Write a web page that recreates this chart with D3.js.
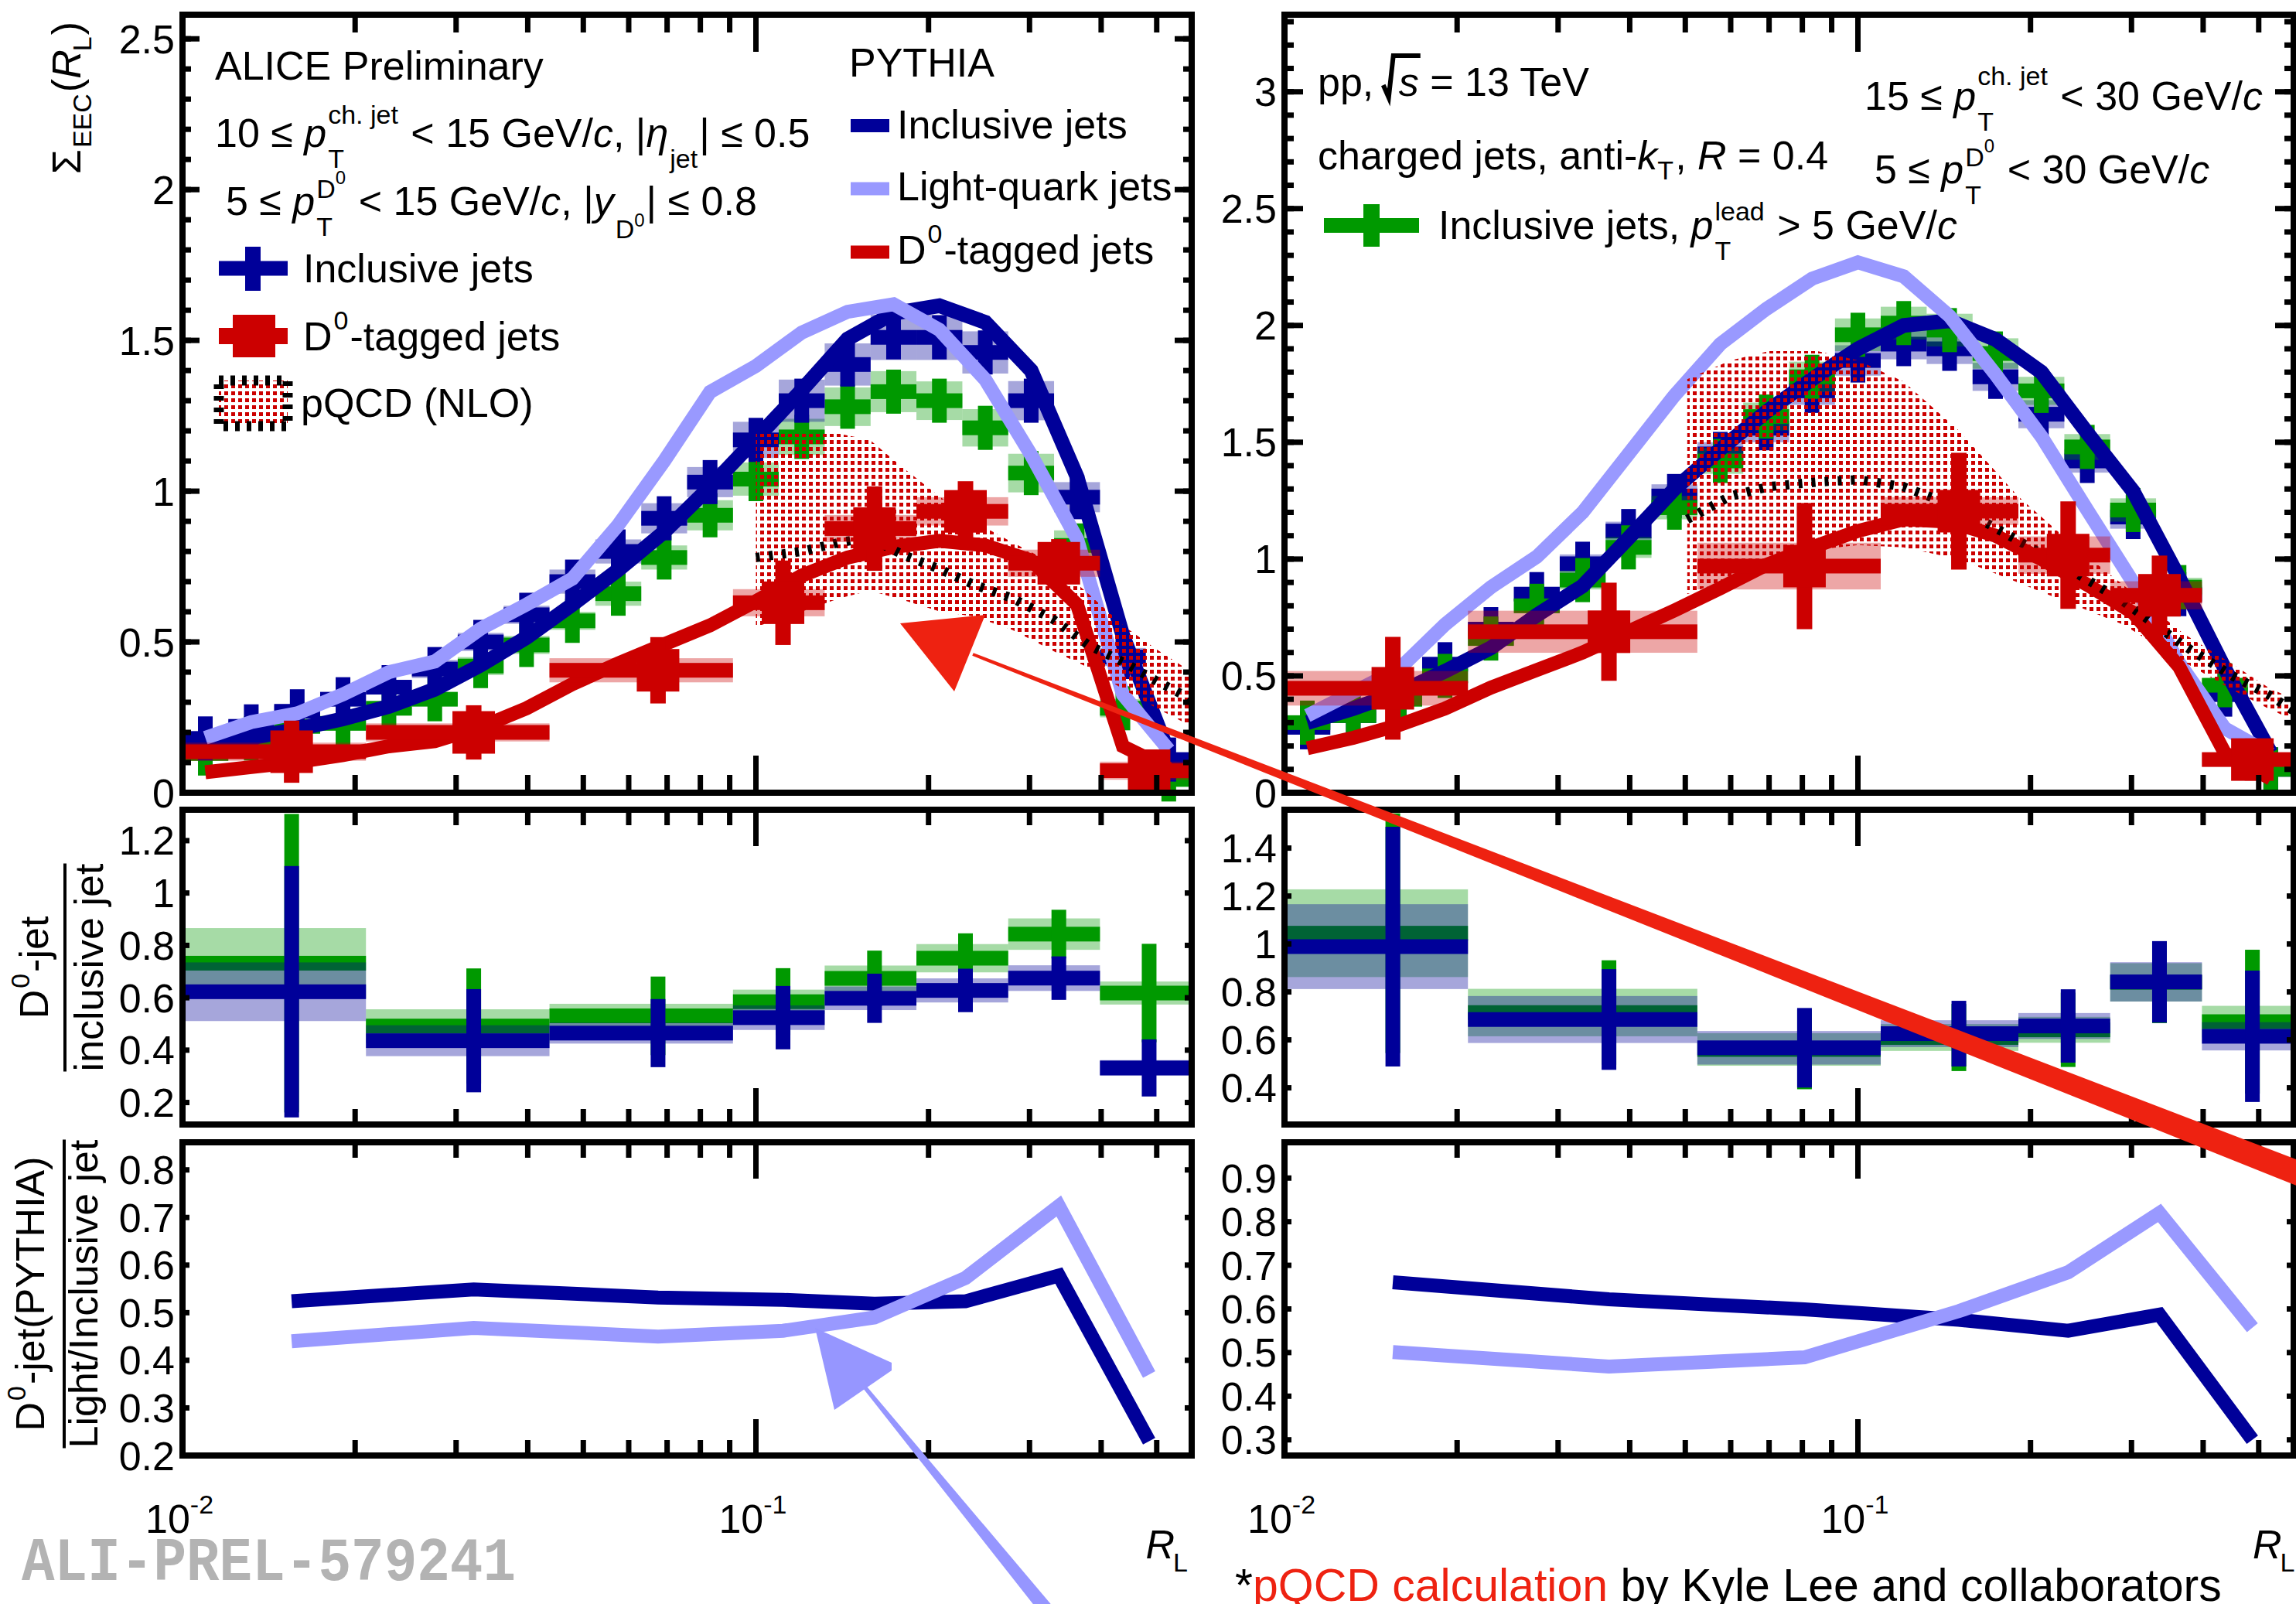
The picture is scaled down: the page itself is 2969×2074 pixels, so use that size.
<!DOCTYPE html>
<html>
<head>
<meta charset="utf-8">
<script src="https://cdn.jsdelivr.net/npm/d3@7"></script>
<style>
  html, body { margin: 0; padding: 0; background: #fff; }
  svg { display: block; }
</style>
</head>
<body>
<svg id="chart" width="2969" height="2074" xmlns="http://www.w3.org/2000/svg"></svg>
<script>
// ---------------- binning in R_L ----------------
const fineEdges = [0.01, 0.01202, 0.01445, 0.01738, 0.02089, 0.02512, 0.0302, 0.03631, 0.04365, 0.05248, 0.0631, 0.07586,
  0.0912, 0.1096, 0.1318, 0.1585, 0.1905, 0.2291, 0.2754, 0.3311, 0.3981, 0.4786, 0.5754];
const fineCenters = [0.01096, 0.01318, 0.01585, 0.01905, 0.02291, 0.02754, 0.03311, 0.03981, 0.04786, 0.05754, 0.06918,
  0.08318, 0.1, 0.1202, 0.1445, 0.1738, 0.2089, 0.2512, 0.302, 0.3631, 0.4365, 0.5248];
const d0EdgesL = [0.01, 0.02089, 0.04365, 0.0912, 0.1318, 0.1905, 0.2754, 0.3981, 0.5754];
const d0CentersL = [0.0155, 0.0322, 0.0675, 0.1115, 0.161, 0.232, 0.3375, 0.485];
const d0EdgesR = [0.01, 0.02089, 0.05248, 0.1096, 0.1905, 0.2754, 0.3981, 0.5754];
const d0CentersR = [0.01545, 0.0368, 0.0807, 0.150, 0.2326, 0.3357, 0.4875];

// ---------------- 10 < pT < 15 GeV/c ----------------
const incL = [0.18, 0.22, 0.27, 0.31, 0.35, 0.41, 0.50, 0.59, 0.70, 0.80, 0.91, 1.03, 1.17, 1.30, 1.42, 1.51, 1.51, 1.46, 1.30, 0.98, 0.45, 0.11];
const incLStat = [0.01, 0.01, 0.01, 0.01, 0.01, 0.01, 0.01, 0.01, 0.01, 0.01, 0.01, 0.01, 0.01, 0.01, 0.01, 0.01, 0.01, 0.01, 0.02, 0.02, 0.02, 0.02];
const incLSys = [0.02, 0.02, 0.02, 0.02, 0.02, 0.03, 0.03, 0.03, 0.04, 0.04, 0.05, 0.05, 0.06, 0.07, 0.07, 0.075, 0.075, 0.07, 0.065, 0.05, 0.03, 0.02];
const leadL = [0.13, 0.18, 0.22, 0.23, 0.28, 0.31, 0.42, 0.49, 0.57, 0.66, 0.78, 0.92, 1.04, 1.18, 1.28, 1.33, 1.30, 1.21, 1.06, 0.82, 0.28, 0.044];
const leadLStat = [0.01, 0.01, 0.01, 0.01, 0.01, 0.01, 0.01, 0.01, 0.01, 0.01, 0.01, 0.01, 0.01, 0.01, 0.01, 0.01, 0.01, 0.01, 0.02, 0.02, 0.02, 0.02];
const leadLSys = [0.02, 0.02, 0.02, 0.02, 0.02, 0.02, 0.03, 0.03, 0.03, 0.04, 0.04, 0.05, 0.055, 0.06, 0.064, 0.068, 0.064, 0.062, 0.064, 0.05, 0.03, 0.02];
const pyIncL = [0.154, 0.182, 0.211, 0.245, 0.286, 0.343, 0.423, 0.515, 0.624, 0.739, 0.865, 1.014, 1.174, 1.335, 1.505, 1.59, 1.615, 1.56, 1.40, 1.048, 0.521, 0.131];
const pyLightL = [0.182, 0.234, 0.263, 0.326, 0.400, 0.435, 0.544, 0.624, 0.710, 0.888, 1.100, 1.329, 1.415, 1.526, 1.595, 1.62, 1.535, 1.37, 1.12, 0.842, 0.326, 0.142];
const pyD0L = [0.068, 0.085, 0.102, 0.125, 0.154, 0.171, 0.217, 0.280, 0.360, 0.429, 0.492, 0.555, 0.635, 0.72, 0.78, 0.815, 0.835, 0.82, 0.77, 0.624, 0.154, 0.079];
const d0L = [0.136, 0.20, 0.406, 0.63, 0.876, 0.933, 0.761, 0.073];
const d0LStat = [0.103, 0.09, 0.11, 0.14, 0.14, 0.10, 0.08, 0.07];
const d0LSys = [0.03, 0.03, 0.04, 0.045, 0.045, 0.047, 0.045, 0.03];
const nloXL = [0.1, 0.12, 0.14, 0.158, 0.18, 0.21, 0.24, 0.28, 0.33, 0.38, 0.44, 0.5, 0.5754];
const nloHiL = [1.19, 1.19, 1.19, 1.17, 1.08, 0.98, 0.90, 0.83, 0.76, 0.66, 0.55, 0.475, 0.40];
const nloMidL = [0.78, 0.80, 0.83, 0.846, 0.79, 0.74, 0.69, 0.645, 0.575, 0.49, 0.43, 0.37, 0.31];
const nloLoL = [0.55, 0.60, 0.645, 0.67, 0.64, 0.60, 0.585, 0.54, 0.47, 0.415, 0.34, 0.28, 0.22];

// ---------------- 15 < pT < 30 GeV/c ----------------
const incR = [0.28, 0.33, 0.42, 0.55, 0.70, 0.85, 0.98, 1.12, 1.27, 1.45, 1.56, 1.72, 1.85, 1.92, 1.90, 1.78, 1.62, 1.42, 1.18, 0.85, 0.42, 0.10];
const incRStat = [0.03, 0.03, 0.03, 0.03, 0.03, 0.03, 0.03, 0.04, 0.03, 0.03, 0.03, 0.03, 0.03, 0.03, 0.03, 0.03, 0.03, 0.03, 0.03, 0.03, 0.03, 0.03];
const incRSys = [0.02, 0.02, 0.02, 0.03, 0.03, 0.03, 0.04, 0.04, 0.05, 0.05, 0.06, 0.06, 0.065, 0.065, 0.065, 0.06, 0.06, 0.05, 0.05, 0.04, 0.03, 0.02];
const leadR = [0.30, 0.33, 0.40, 0.50, 0.66, 0.80, 0.91, 1.05, 1.22, 1.42, 1.61, 1.78, 1.96, 2.01, 1.98, 1.88, 1.72, 1.48, 1.21, 0.88, 0.46, 0.10];
const leadRStat = [0.03, 0.03, 0.03, 0.03, 0.03, 0.03, 0.03, 0.03, 0.03, 0.03, 0.03, 0.03, 0.03, 0.03, 0.03, 0.03, 0.03, 0.03, 0.03, 0.03, 0.03, 0.03];
const leadRSys = [0.02, 0.02, 0.02, 0.03, 0.03, 0.03, 0.04, 0.045, 0.05, 0.055, 0.06, 0.065, 0.07, 0.07, 0.07, 0.065, 0.06, 0.055, 0.05, 0.04, 0.03, 0.02];
const pyIncR = [0.30, 0.36, 0.43, 0.52, 0.62, 0.76, 0.885, 1.09, 1.30, 1.47, 1.63, 1.77, 1.90, 2.00, 2.02, 1.94, 1.80, 1.54, 1.29, 0.92, 0.53, 0.17];
const pyLightR = [0.33, 0.43, 0.53, 0.72, 0.88, 1.01, 1.20, 1.45, 1.70, 1.92, 2.07, 2.20, 2.27, 2.21, 2.04, 1.79, 1.525, 1.21, 0.90, 0.556, 0.275, 0.165];
const pyD0R = [0.19, 0.235, 0.29, 0.36, 0.45, 0.525, 0.60, 0.69, 0.78, 0.875, 0.975, 1.05, 1.12, 1.17, 1.16, 1.10, 1.00, 0.89, 0.77, 0.54, 0.17, 0.06];
const d0R = [0.447, 0.689, 0.970, 1.205, 1.017, 0.845, 0.142];
const d0RStat = [0.22, 0.21, 0.27, 0.25, 0.23, 0.17, 0.09];
const d0RSys = [0.074, 0.09, 0.10, 0.06, 0.08, 0.06, 0.03];
const nloXR = [0.0504, 0.06, 0.07, 0.085, 0.1, 0.12, 0.15, 0.19, 0.24, 0.29, 0.37, 0.45, 0.52, 0.5754];
const nloHiR = [1.77, 1.85, 1.89, 1.89, 1.85, 1.76, 1.55, 1.27, 1.05, 0.89, 0.68, 0.55, 0.45, 0.40];
const nloMidR = [1.17, 1.27, 1.31, 1.33, 1.34, 1.31, 1.22, 1.08, 0.94, 0.82, 0.63, 0.50, 0.42, 0.35];
const nloLoR = [0.85, 0.92, 0.98, 1.04, 1.06, 1.05, 1.00, 0.90, 0.80, 0.72, 0.56, 0.44, 0.36, 0.31];

// ---------------- D0-jet / inclusive-jet ratios ----------------
const ratIncL = [0.623, 0.436, 0.465, 0.524, 0.598, 0.628, 0.675, 0.332];
const ratIncLStat = [0.48, 0.197, 0.13, 0.121, 0.094, 0.083, 0.083, 0.109];
const ratIncLSys = [0.112, 0.059, 0.04, 0.047, 0.045, 0.046, 0.049, 0.03];
const ratLeadL = [0.732, 0.492, 0.531, 0.585, 0.674, 0.751, 0.843, 0.618];
const ratLeadLStat = [0.57, 0.22, 0.15, 0.128, 0.106, 0.095, 0.093, 0.188];
const ratLeadLSys = [0.134, 0.064, 0.046, 0.046, 0.049, 0.054, 0.06, 0.044];
const ratIncR = [0.989, 0.685, 0.567, 0.626, 0.658, 0.842, 0.615];
const ratIncRStat = [0.50, 0.21, 0.166, 0.137, 0.153, 0.17, 0.274];
const ratIncRSys = [0.177, 0.098, 0.07, 0.056, 0.054, 0.082, 0.059];
const ratLeadR = [1.045, 0.714, 0.56, 0.61, 0.642, 0.84, 0.676];
const ratLeadRStat = [0.50, 0.218, 0.166, 0.14, 0.155, 0.17, 0.30];
const ratLeadRSys = [0.183, 0.099, 0.068, 0.056, 0.054, 0.08, 0.066];

// ---------------- PYTHIA ratios ----------------
const pyRatIncL = [0.524, 0.549, 0.532, 0.527, 0.519, 0.524, 0.578, 0.23];
const pyRatLightL = [0.44, 0.468, 0.45, 0.462, 0.49, 0.573, 0.724, 0.37];
const pyRatIncR = [0.661, 0.622, 0.599, 0.575, 0.55, 0.587, 0.30];
const pyRatLightR = [0.501, 0.468, 0.489, 0.595, 0.684, 0.82, 0.557];

// ---------------- tick labels ----------------
const yTicksTL = [0, 0.5, 1, 1.5, 2, 2.5];
const yTicksTR = [0, 0.5, 1, 1.5, 2, 2.5, 3];
const yTicksML = [0.2, 0.4, 0.6, 0.8, 1, 1.2];
const yTicksMR = [0.4, 0.6, 0.8, 1, 1.2, 1.4];
const yTicksBL = [0.2, 0.3, 0.4, 0.5, 0.6, 0.7, 0.8];
const yTicksBR = [0.3, 0.4, 0.5, 0.6, 0.7, 0.8, 0.9];
const xMajor = [0.01, 0.1];
const xMinor = [0.02, 0.03, 0.04, 0.05, 0.06, 0.07, 0.08, 0.09, 0.2, 0.3, 0.4, 0.5];

// =====================================================================
const W = 2969, H = 2074;
const FONT = "'Liberation Sans', Arial, Helvetica, sans-serif";
const COL = { inc: '#000099', light: '#9999ff', d0: '#cc0000', lead: '#009900', note: '#ee2211' };
const SYS_ALPHA = 0.35;

const svg = d3.select('#chart').attr('font-family', FONT);
svg.append('rect').attr('width', W).attr('height', H).attr('fill', '#fff');
const defs = svg.append('defs');
const pat = defs.append('pattern').attr('id', 'nloFill').attr('patternUnits', 'userSpaceOnUse')
  .attr('width', 9).attr('height', 9);
pat.append('rect').attr('x', 2).attr('y', 2).attr('width', 5).attr('height', 5).attr('fill', COL.d0);

const LX = [236, 1541], RX = [1661, 2966];
const TOPY = [1025, 19], MIDY = [1454, 1047], BOTY = [1882, 1477];
const xDomain = [0.01, 0.5754];
const xL = d3.scaleLog().domain(xDomain).range(LX);
const xR = d3.scaleLog().domain(xDomain).range(RX);
const yTL = d3.scaleLinear().domain([0, 2.58]).range(TOPY);
const yTR = d3.scaleLinear().domain([0, 3.33]).range(TOPY);
const yML = d3.scaleLinear().domain([0.116, 1.318]).range(MIDY);
const yMR = d3.scaleLinear().domain([0.247, 1.56]).range(MIDY);
const yBL = d3.scaleLinear().domain([0.2, 0.858]).range(BOTY);
const yBR = d3.scaleLinear().domain([0.264, 0.982]).range(BOTY);

let clipCount = 0;
function makePanel(x, y) {
  const id = 'pclip' + (clipCount++);
  const [x0, x1] = x.range(), [yb, yt] = y.range();
  defs.append('clipPath').attr('id', id).append('rect')
    .attr('x', x0).attr('y', yt).attr('width', x1 - x0).attr('height', yb - yt);
  const g = svg.append('g');
  return {
    x, y,
    layer(clipped) { const l = g.append('g'); if (clipped) l.attr('clip-path', `url(#${id})`); return l; }
  };
}

// inclusive-jet style points: systematic boxes, stat bars, cross markers
function drawCrosses(g, x, y, vals, stat, sys, color) {
  const idx = d3.range(vals.length);
  g.append('g').selectAll('rect').data(idx).join('rect')
    .attr('x', i => x(fineEdges[i])).attr('width', i => x(fineEdges[i + 1]) - x(fineEdges[i]))
    .attr('y', i => y(vals[i] + sys[i])).attr('height', i => y(vals[i] - sys[i]) - y(vals[i] + sys[i]))
    .attr('fill', color).attr('fill-opacity', SYS_ALPHA);
  const m = g.append('g').attr('fill', color);
  idx.forEach(i => {
    const cx = x(fineCenters[i]), cy = y(vals[i]);
    m.append('rect').attr('x', cx - 9.5).attr('width', 19)
      .attr('y', y(vals[i] + stat[i])).attr('height', y(vals[i] - stat[i]) - y(vals[i] + stat[i]));
    m.append('rect').attr('x', x(fineEdges[i])).attr('width', x(fineEdges[i + 1]) - x(fineEdges[i]))
      .attr('y', cy - 9.5).attr('height', 19);
    m.append('rect').attr('x', cx - 9.5).attr('width', 19).attr('y', cy - 28.5).attr('height', 57);
  });
}

// D0-tagged points: wide bins, big square markers
function drawD0(g, x, y, centers, edges, vals, stat, sys) {
  const idx = d3.range(vals.length);
  g.append('g').selectAll('rect').data(idx).join('rect')
    .attr('x', i => x(edges[i])).attr('width', i => x(edges[i + 1]) - x(edges[i]))
    .attr('y', i => y(vals[i] + sys[i])).attr('height', i => y(vals[i] - sys[i]) - y(vals[i] + sys[i]))
    .attr('fill', COL.d0).attr('fill-opacity', SYS_ALPHA);
  const m = g.append('g').attr('fill', COL.d0);
  idx.forEach(i => {
    const cx = x(centers[i]), cy = y(vals[i]);
    m.append('rect').attr('x', x(edges[i])).attr('width', x(edges[i + 1]) - x(edges[i]))
      .attr('y', cy - 9.5).attr('height', 19);
    m.append('rect').attr('x', cx - 10).attr('width', 20)
      .attr('y', y(vals[i] + stat[i])).attr('height', y(vals[i] - stat[i]) - y(vals[i] + stat[i]));
    m.append('rect').attr('x', cx - 27.5).attr('width', 55).attr('y', cy - 27.5).attr('height', 55);
  });
}

// ratio points: boxes, bin-wide bars and stat bars
function drawRatio(g, x, y, centers, edges, vals, stat, sys, color) {
  const idx = d3.range(vals.length);
  g.append('g').selectAll('rect').data(idx).join('rect')
    .attr('x', i => x(edges[i])).attr('width', i => x(edges[i + 1]) - x(edges[i]))
    .attr('y', i => y(vals[i] + sys[i])).attr('height', i => y(vals[i] - sys[i]) - y(vals[i] + sys[i]))
    .attr('fill', color).attr('fill-opacity', SYS_ALPHA);
  const m = g.append('g').attr('fill', color);
  idx.forEach(i => {
    const cx = x(centers[i]), cy = y(vals[i]);
    m.append('rect').attr('x', x(edges[i])).attr('width', x(edges[i + 1]) - x(edges[i]))
      .attr('y', cy - 9.5).attr('height', 19);
    m.append('rect').attr('x', cx - 9.5).attr('width', 19)
      .attr('y', y(vals[i] + stat[i])).attr('height', y(vals[i] - stat[i]) - y(vals[i] + stat[i]));
  });
}

function drawLine(g, x, y, xs, ys, color, width) {
  g.append('path').datum(xs.map((v, i) => [v, ys[i]]))
    .attr('d', d3.line().x(d => x(d[0])).y(d => y(d[1])))
    .attr('fill', 'none').attr('stroke', color).attr('stroke-width', width)
    .attr('stroke-linejoin', 'miter').attr('stroke-miterlimit', 3);
}

function drawNLO(g, x, y, xs, lo, mid, hi) {
  g.append('path').datum(xs.map((v, i) => [v, lo[i], hi[i]]))
    .attr('d', d3.area().x(d => x(d[0])).y0(d => y(d[1])).y1(d => y(d[2])))
    .attr('fill', 'url(#nloFill)');
  g.append('path').datum(xs.map((v, i) => [v, mid[i]]))
    .attr('d', d3.line().x(d => x(d[0])).y(d => y(d[1])))
    .attr('fill', 'none').attr('stroke', '#000').attr('stroke-width', 12).attr('stroke-dasharray', '5 12');
}

function fmt(v) { return String(Math.round(v * 10) / 10); }

function drawAxes(x, y, o) {
  const g = svg.append('g').attr('stroke', '#000').attr('stroke-width', 7);
  const [x0, x1] = x.range(), [yb, yt] = y.range();
  const tick = (a, b, c, d) => g.append('line').attr('x1', a).attr('y1', b).attr('x2', c).attr('y2', d);
  xMajor.concat(xMinor).forEach(v => {
    const len = xMajor.includes(v) ? o.xMaj : o.xMin;
    const px = x(v);
    tick(px, yb, px, yb - len);
    tick(px, yt, px, yt + len);
  });
  (o.yMinor || []).forEach(v => {
    const py = y(v);
    tick(x0, py, x0 + o.yMin, py);
    tick(x1, py, x1 - o.yMin, py);
  });
  o.yTicks.forEach(v => {
    const py = y(v);
    tick(x0, py, x0 + o.yMaj, py);
    tick(x1, py, x1 - o.yMaj, py);
  });
  g.append('rect').attr('x', x0).attr('y', yt).attr('width', x1 - x0).attr('height', yb - yt)
    .attr('fill', 'none').attr('stroke-width', 8);
  const lab = svg.append('g').attr('font-size', 52).attr('text-anchor', 'end');
  o.yTicks.forEach(v => {
    lab.append('text').attr('x', x0 - 10).attr('y', y(v) + 18.5).text(fmt(v));
  });
}

// rich text: runs {t, i, s, dy, c} and stacks {stack:[subRuns, supRuns]}
function rich(parent, x, y, parts, o = {}) {
  const size = o.size || 52;
  const g = parent.append('g');
  let cx = 0;
  const put = (q, x0) => {
    const t = g.append('text').attr('x', x0).attr('y', q.dy || 0)
      .attr('font-size', q.s || size).attr('fill', q.c || o.color || '#000')
      .style('white-space', 'pre').text(q.t);
    if (q.i) t.attr('font-style', 'italic');
    return t.node().getComputedTextLength();
  };
  parts.forEach(p => {
    if (p.stack) {
      const x0 = cx + (p.pre === undefined ? 2 : p.pre);
      let w = 0;
      p.stack.forEach(row => {
        let rx = x0;
        row.forEach(q => { rx += put(q, rx); });
        w = Math.max(w, rx - x0);
      });
      cx = x0 + w + (p.post === undefined ? 2 : p.post);
    } else {
      cx += put(p, cx);
    }
  });
  let tx = x;
  if (o.anchor === 'end') tx = x - cx;
  else if (o.anchor === 'middle') tx = x - cx / 2;
  g.attr('transform', `translate(${tx},${y})`);
  return cx;
}
const T = (t, o) => Object.assign({ t }, o || {});
const S = (sub, sup, o) => Object.assign({ stack: [sub || [], sup || []] }, o || {});

// ---------------- panels ----------------
const pTL = makePanel(xL, yTL);
drawCrosses(pTL.layer(false), xL, yTL, leadL, leadLStat, leadLSys, COL.lead);
drawCrosses(pTL.layer(false), xL, yTL, incL, incLStat, incLSys, COL.inc);
{
  const l = pTL.layer(true);
  drawLine(l, xL, yTL, fineCenters, pyIncL, COL.inc, 19);
  drawLine(l, xL, yTL, fineCenters, pyLightL, COL.light, 18);
  drawLine(l, xL, yTL, fineCenters, pyD0L, COL.d0, 18);
  drawNLO(pTL.layer(true), xL, yTL, nloXL, nloLoL, nloMidL, nloHiL);
}
drawD0(pTL.layer(false), xL, yTL, d0CentersL, d0EdgesL, d0L, d0LStat, d0LSys);

const pTR = makePanel(xR, yTR);
drawCrosses(pTR.layer(false), xR, yTR, incR, incRStat, incRSys, COL.inc);
drawCrosses(pTR.layer(false), xR, yTR, leadR, leadRStat, leadRSys, COL.lead);
{
  const l = pTR.layer(true);
  drawLine(l, xR, yTR, fineCenters, pyIncR, COL.inc, 19);
  drawLine(l, xR, yTR, fineCenters, pyLightR, COL.light, 18);
  drawLine(l, xR, yTR, fineCenters, pyD0R, COL.d0, 18);
  drawNLO(pTR.layer(true), xR, yTR, nloXR, nloLoR, nloMidR, nloHiR);
}
drawD0(pTR.layer(false), xR, yTR, d0CentersR, d0EdgesR, d0R, d0RStat, d0RSys);

const pML = makePanel(xL, yML);
drawRatio(pML.layer(false), xL, yML, d0CentersL, d0EdgesL, ratLeadL, ratLeadLStat, ratLeadLSys, COL.lead);
drawRatio(pML.layer(false), xL, yML, d0CentersL, d0EdgesL, ratIncL, ratIncLStat, ratIncLSys, COL.inc);

const pMR = makePanel(xR, yMR);
drawRatio(pMR.layer(false), xR, yMR, d0CentersR, d0EdgesR, ratLeadR, ratLeadRStat, ratLeadRSys, COL.lead);
drawRatio(pMR.layer(false), xR, yMR, d0CentersR, d0EdgesR, ratIncR, ratIncRStat, ratIncRSys, COL.inc);

const pBL = makePanel(xL, yBL);
{
  const l = pBL.layer(true);
  drawLine(l, xL, yBL, d0CentersL, pyRatIncL, COL.inc, 18);
  drawLine(l, xL, yBL, d0CentersL, pyRatLightL, COL.light, 18);
}
const pBR = makePanel(xR, yBR);
{
  const l = pBR.layer(true);
  drawLine(l, xR, yBR, d0CentersR, pyRatIncR, COL.inc, 18);
  drawLine(l, xR, yBR, d0CentersR, pyRatLightR, COL.light, 18);
}

// ---------------- axes ----------------
const topMinorL = d3.range(0, 2.58, 0.1), topMinorR = d3.range(0, 3.33, 0.1);
drawAxes(xL, yTL, { xMaj: 48, xMin: 23, yMaj: 22, yMin: 11, yTicks: yTicksTL, yMinor: topMinorL });
drawAxes(xR, yTR, { xMaj: 48, xMin: 23, yMaj: 24, yMin: 12, yTicks: yTicksTR, yMinor: topMinorR });
drawAxes(xL, yML, { xMaj: 47, xMin: 20, yMaj: 9, yTicks: yTicksML });
drawAxes(xR, yMR, { xMaj: 47, xMin: 20, yMaj: 9, yTicks: yTicksMR });
drawAxes(xL, yBL, { xMaj: 47, xMin: 20, yMaj: 9, yTicks: yTicksBL });
drawAxes(xR, yBR, { xMaj: 47, xMin: 20, yMaj: 9, yTicks: yTicksBR });

// x labels under the bottom row
[[xL, 0.01, '-2'], [xL, 0.1, '-1'], [xR, 0.01, '-2'], [xR, 0.1, '-1']].forEach(([sc, v, e]) => {
  rich(svg, sc(v) - 3, 1982, [T('10'), S([], [T(e, { s: 34, dy: -25 })], { pre: 0 })], { anchor: 'middle' });
});
rich(svg, 1538, 2015, [T('R', { i: 1 }), S([T('L', { s: 34, dy: 17 })], [], { pre: -2 })], { anchor: 'end' });
rich(svg, 2913, 2015, [T('R', { i: 1 }), S([T('L', { s: 34, dy: 17 })], [], { pre: -2 })]);

// ---------------- axis titles ----------------
{
  const g = svg.append('g').attr('transform', 'translate(104,28) rotate(-90)');
  rich(g, 0, 0, [T('Σ'), S([T('EEC', { s: 34, dy: 14 })], []), T('('), T('R', { i: 1 }),
    S([T('L', { s: 34, dy: 14 })], [], { pre: -2 }), T(')')], { anchor: 'end' });
}
function fraction(cy, numParts, denParts, xNum, xDen, xBar) {
  const gn = svg.append('g').attr('transform', `translate(${xNum},${cy}) rotate(-90)`);
  const wn = rich(gn, 0, 0, numParts, { anchor: 'middle' });
  const gd = svg.append('g').attr('transform', `translate(${xDen},${cy}) rotate(-90)`);
  const wd = rich(gd, 0, 0, denParts, { anchor: 'middle' });
  const w = Math.max(wn, wd);
  svg.append('line').attr('x1', xBar).attr('x2', xBar).attr('y1', cy - w / 2).attr('y2', cy + w / 2)
    .attr('stroke', '#000').attr('stroke-width', 4);
}
fraction(1251, [T('D'), S([], [T('0', { s: 34, dy: -24 })]), T('-jet')], [T('inclusive jet')], 62, 133, 84);
fraction(1673, [T('D'), S([], [T('0', { s: 34, dy: -24 })]), T('-jet(PYTHIA)')], [T('Light/Inclusive jet')], 57, 126, 83);

// ---------------- legends & labels: left ----------------
rich(svg, 278, 103, [T('ALICE Preliminary')]);
rich(svg, 278, 190, [T('10 ≤ '), T('p', { i: 1 }), S([T('T', { s: 34, dy: 27 })], [T('ch. jet', { s: 34, dy: -30 })]),
  T(' < 15 GeV/'), T('c', { i: 1 }), T(', |'), T('η', { i: 1 }), S([T('jet', { s: 34, dy: 27 })], []), T('| ≤ 0.5')]);
rich(svg, 292, 278, [T('5 ≤ '), T('p', { i: 1 }),
  S([T('T', { s: 34, dy: 27 })], [T('D', { s: 34, dy: -22 }), T('0', { s: 24, dy: -40 })]),
  T(' < 15 GeV/'), T('c', { i: 1 }), T(', |'), T('y', { i: 1 }),
  S([T('D', { s: 34, dy: 30 }), T('0', { s: 24, dy: 15 })], []), T('| ≤ 0.8')]);
{
  const g = svg.append('g');
  // inclusive-jet legend marker
  g.append('rect').attr('x', 283).attr('y', 337.5).attr('width', 89).attr('height', 19).attr('fill', COL.inc);
  g.append('rect').attr('x', 317).attr('y', 319).attr('width', 20).attr('height', 57).attr('fill', COL.inc);
  rich(svg, 392, 365, [T('Inclusive jets')]);
  // D0 legend marker
  g.append('rect').attr('x', 283).attr('y', 424).attr('width', 89).attr('height', 21).attr('fill', COL.d0);
  g.append('rect').attr('x', 301).attr('y', 407).attr('width', 55).attr('height', 55).attr('fill', COL.d0);
  rich(svg, 392, 453, [T('D'), S([], [T('0', { s: 34, dy: -27 })]), T('-tagged jets')]);
  // NLO legend box
  g.append('rect').attr('x', 283).attr('y', 492).attr('width', 89).attr('height', 59).attr('fill', 'url(#nloFill)')
    .attr('stroke', '#000').attr('stroke-width', 13).attr('stroke-dasharray', '6 9');
  rich(svg, 389, 539, [T('pQCD (NLO)')]);
}
// PYTHIA legend
rich(svg, 1098, 99, [T('PYTHIA')]);
[[COL.inc, 162.5, 179, [T('Inclusive jets')]],
 [COL.light, 244, 259, [T('Light-quark jets')]],
 [COL.d0, 326, 341, [T('D'), S([], [T('0', { s: 34, dy: -27 })]), T('-tagged jets')]]].forEach(([c, cy, by, parts]) => {
  svg.append('rect').attr('x', 1100).attr('y', cy - 8.5).attr('width', 50).attr('height', 17).attr('fill', c);
  rich(svg, 1160, by, parts);
});

// ---------------- legends & labels: right ----------------
{
  const w = rich(svg, 1704, 124, [T('pp, ')]);
  const xr = 1704 + w + 6;
  const sw = rich(svg, xr + 12, 124, [T('s', { i: 1 })]);
  svg.append('polyline')
    .attr('points', `${xr - 8},${110} ${xr - 1},${126} ${xr + 5},${72} ${xr + 14 + sw},${72}`)
    .attr('fill', 'none').attr('stroke', '#000').attr('stroke-width', 6).attr('stroke-linejoin', 'miter');
  rich(svg, xr + 12 + sw, 124, [T(' = 13 TeV')]);
}
rich(svg, 1704, 219, [T('charged jets, anti-'), T('k', { i: 1 }), S([T('T', { s: 34, dy: 13 })], [], { pre: 0 }),
  T(', '), T('R', { i: 1 }), T(' = 0.4')]);
rich(svg, 2411, 142, [T('15 ≤ '), T('p', { i: 1 }), S([T('T', { s: 34, dy: 27 })], [T('ch. jet', { s: 34, dy: -32 })]),
  T(' < 30 GeV/'), T('c', { i: 1 })]);
rich(svg, 2424, 237, [T('5 ≤ '), T('p', { i: 1 }),
  S([T('T', { s: 34, dy: 27 })], [T('D', { s: 34, dy: -22 }), T('0', { s: 24, dy: -40 })]),
  T(' < 30 GeV/'), T('c', { i: 1 })]);
svg.append('rect').attr('x', 1712).attr('y', 282).attr('width', 123).attr('height', 19).attr('fill', COL.lead);
svg.append('rect').attr('x', 1763).attr('y', 264).attr('width', 21).attr('height', 55).attr('fill', COL.lead);
rich(svg, 1860, 309, [T('Inclusive jets, '), T('p', { i: 1 }),
  S([T('T', { s: 34, dy: 27 })], [T('lead', { s: 34, dy: -24 })]), T(' > 5 GeV/'), T('c', { i: 1 })]);

// ---------------- footer ----------------
svg.append('text').attr('transform', 'translate(28,2043) scale(1,1.12)')
  .attr('font-family', "'Liberation Mono', 'Courier New', monospace").attr('font-weight', 'bold')
  .attr('font-size', 71).attr('fill', '#b3b3b3').text('ALI-PREL-579241');
rich(svg, 1597, 2070, [T('*'), T('pQCD calculation', { c: COL.note }), T(' by Kyle Lee and collaborators')], { size: 59 });

// ---------------- hand-drawn pointers ----------------
function taper(p0, p1, w0, w1) {
  const dx = p1[0] - p0[0], dy = p1[1] - p0[1], L = Math.hypot(dx, dy);
  const nx = -dy / L, ny = dx / L;
  return [[p0[0] + nx * w0 / 2, p0[1] + ny * w0 / 2], [p1[0] + nx * w1 / 2, p1[1] + ny * w1 / 2],
          [p1[0] - nx * w1 / 2, p1[1] - ny * w1 / 2], [p0[0] - nx * w0 / 2, p0[1] - ny * w0 / 2]];
}
const poly = pts => pts.map(p => p.join(',')).join(' ');
svg.append('polygon').attr('points', poly(taper([1258, 846], [3000, 1528], 4, 32))).attr('fill', COL.note);
svg.append('polygon').attr('points', poly([[1164, 806], [1274, 795], [1234, 894]])).attr('fill', COL.note);
svg.append('polygon').attr('points', poly(taper([1112, 1786], [1352, 2080], 5, 18))).attr('fill', '#9696ff');
svg.append('polygon').attr('points', poly([[1054, 1717], [1153, 1762], [1153, 1772], [1079, 1823]])).attr('fill', '#9696ff');
</script>
</body>
</html>
